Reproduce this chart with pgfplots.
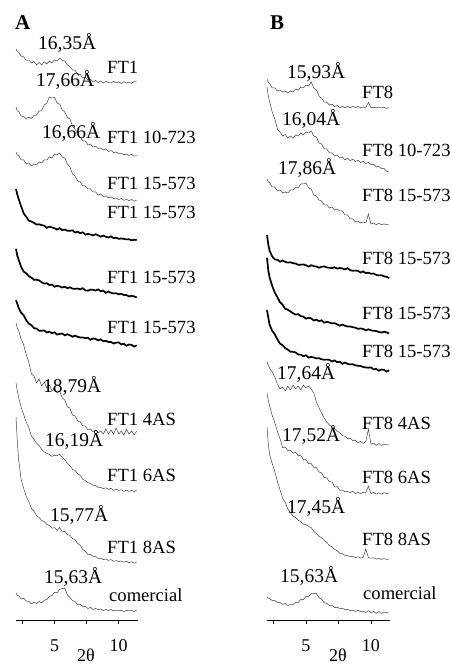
\documentclass[border=0pt]{standalone}
\usepackage{fontspec}
\setmainfont{Liberation Serif}
\usepackage{pgfplots}
\usepackage{pgfplotstable}
\pgfplotsset{compat=1.18}

% panel A: 2theta, then FT1, FT1 10-723, FT1 15-573 (x4), FT1 4AS, 6AS, 8AS, comercial
\pgfplotstableread{
x a1 a2 a3 a4 a5 a6 a7 a8 a9 a10
2.0 616 558 513 476 416.2 364.8 342 282 248 72
2.1 613.5 554 510 470.5 409.3 361.4 337 274.5 224 69.5
2.2 612.8 553.8 509.5 466.3 405.5 357.2 334.5 268 206 69.5
2.4 609 549 505 458.6 398.1 352.3 326 257.5 185.5 66
2.6 608 548.5 505 451.6 393.4 349.6 320 250.4 176.6 66.8
2.8 604.8 546 501 448.2 391.7 344.7 310 242.6 168.6 64
3.0 605 548 502 444.3 388.8 341.4 303 237.4 163.4 63.6
3.2 602 546.5 499 443.5 387.4 339.8 291 229 156.6 61.2
3.4 603.5 549.5 501 442.1 385.2 336.9 289 225.6 153.6 62.8
3.6 600 550 500 440.4 385.3 336.4 282 221.8 149.6 61.4
3.8 602.5 554 503 440.7 384.6 334.3 286 219.4 147.4 63.6
4.0 600.2 554.2 502 439.8 382.7 334.2 279 215.6 144.6 62.2
4.2 603 560 505 439.4 381.4 334.6 283 213.2 143.4 64.8
4.4 601 562 505 437.2 381.8 332.5 277 211.6 140.6 65.4
4.6 604 568 508 438.3 379.9 333.3 280 210.6 139.6 68.6
4.8 602.2 567 507 437.6 380.4 331.8 274 208.6 136.8 69.4
5.0 605 567.5 511 436.7 378.3 332.7 277 209.8 137.4 72.6
5.2 604 562 510 435.4 379.2 330.4 272 209.2 134.6 72.2
5.4 607 561 512 436.8 378.6 331.1 274 211 137.6 75.6
5.6 604.5 555 508 434.9 377.5 331.5 267 207.6 133 76.4
5.8 604 553 507 435.4 378.3 329.6 265 205.4 133.6 76.8
6.0 600 547.8 501 434.3 376.8 330.8 258 201.6 130.4 70.2
6.2 598.5 546 498 434.2 377.7 329.7 257 199.4 129.6 67.6
6.4 595 539 491 434.6 376.4 328.3 250 195.6 126.6 64.4
6.6 594.8 536 489 432.5 376.1 329.4 249 194.6 125.4 63.5
6.8 591 530 484 433.3 376.5 328.2 244 191.4 121.6 60.4
7.0 590.5 528 483 431.8 375.6 327.5 243 189.6 119.6 60.6
7.2 587 524 479 432.7 376.8 327.6 239 185.6 115.6 58.4
7.4 588 524 479 430.4 374.7 326.8 239 184.4 113.6 58.6
7.6 585 520 476 431.1 374.3 327.3 235 182.4 110.6 56.5
7.8 585.8 521 476 430.5 375.4 325.2 236 181.6 110.6 57.6
8.0 583 518 473 429.6 375.2 326.5 233 179.6 108.6 55.5
8.2 584.6 518.8 473 430.8 374.5 326.1 235 179.6 108.6 56.6
8.4 582.5 516.5 470 429.7 375.6 324.6 232 177.6 106.6 55.4
8.6 584 517 471 428.3 373.8 325.7 234 177.6 106.6 56
8.8 582 515 468.5 429.4 374.3 323.7 231 176.4 105.4 54.4
9.0 583.8 516 469 428.2 372.2 324.2 236 177.2 106 55.6
9.2 582.4 513.5 467.2 427.5 373.5 323 231 175.6 104.6 54.3
9.4 582 514.5 468 428.6 372.1 323 235 176.6 105.4 55.5
9.6 583.6 512.4 466.4 426.8 371.6 321.5 231 174.6 103.6 54.2
9.8 582.2 513 467 427.3 371.7 322.3 237 175.8 104.4 54.8
10.0 583 511.5 465.5 426.2 370.7 322.6 231 174.6 103.4 54.4
10.2 581.5 511.8 466.6 426.5 371.2 320.6 234 175.2 104 54.6
10.4 583.4 510.4 464.6 426.1 370 321.2 230 173.6 102.8 53.4
10.6 581.8 510.8 465.6 425.6 370 319.3 236 175 103.6 54.6
10.8 583 509.5 464.4 425.7 368.5 320.5 231 173.6 102.4 54.2
11.0 581.6 510.6 465.5 424.7 369.3 320.1 234 174.6 103.2 54.5
11.2 583.5 508.8 463.8 425.2 368.6 318.4 230 173.4 101.8 53.4
11.4 584 509.4 465 425 367.6 319.7 234 175 103 55
}\tblA

% panel B: FT8, FT8 10-723, FT8 15-573 (x4), FT8 4AS, 6AS, 8AS, comercial
\pgfplotstableread{
x b1 b2 b3 b4 b5 b6 b7 b8 b9 b10
2.0 586 578 486 430 407.2 354.8 303 272 238 68
2.1 583 569 483 420.5 394.3 347.4 300 264.5 221 67
2.2 581.5 563.5 482.5 414.3 387.5 340.2 297 259.2 210.5 66.5
2.4 577 553 478 408.6 379.1 334.3 293 249.6 201.4 64.5
2.6 577 546 478 405.6 372.4 330.6 288 242.4 193.4 64.6
2.8 574 536 474 405.2 367.7 325.7 281 233.6 183.6 62.4
3.0 575 533 475 403.3 362.8 321.4 276 226.4 175.4 62.6
3.2 573 529 472 404.5 360.4 319.8 278 217.4 167 60.5
3.4 574 530.5 473 403.1 356.2 316.9 274 218 162.4 61.6
3.6 572 527 472 402.4 355.3 315.4 279 214.4 156 59.4
3.8 574 529 475 402.7 353.6 313.3 275 214.8 152.4 60.8
4.0 573 527 475 401.8 351.7 313.2 280 212 149 60.4
4.2 576 530 478 401.4 350.4 312.6 276 212.8 147.4 62.6
4.4 575 529 477 400.2 350.8 310.5 279 209.2 144.8 62.4
4.6 578 532 481 400.3 348.9 310.3 275 209.4 143.4 65.6
4.8 577 530 481 400.6 348.4 308.8 280 205.4 140.8 65.4
5.0 580 533 482 399.7 346.3 309.7 277 205.4 140.4 68.6
5.2 579 532 477 398.4 347.2 307.4 279 201.4 138.6 68.4
5.4 583 534 476 399.8 346.6 308.1 276 201.4 137.4 71.6
5.6 577 529 470 398.9 344.5 307.5 272 197.4 133.6 71.6
5.8 575 528 469 398.4 345.3 306.6 263 197.4 131.4 71.6
6.0 569 522 465 397.3 343.8 306.8 257 193 128.6 67.4
6.2 566.8 521 464 398.2 344.7 305.7 252 192.2 127.4 65.6
6.4 563 516 460 398.6 342.4 305.3 247 187.4 124.6 62.4
6.6 562.8 516 460 397.5 343.1 305.4 243 187.2 122.4 61.6
6.8 560 512 457 397.3 342.5 305.2 240 183 119.6 59.4
7.0 560.8 512 458 396.8 341.6 303.5 238 183.2 118.4 59.6
7.2 558.4 509 455 397.7 341.8 304.6 236.8 178 115.6 57.4
7.4 559.6 510 456 396.4 340.7 302.8 233.4 178.4 114.4 57.8
7.6 557.4 507 454 397.1 339.3 303.3 232.6 174.6 111.6 56.4
7.8 558.8 508 454 396.5 340.4 301.2 229.4 175 111.4 56.6
8.0 557.2 505 450 395.6 339.2 302.5 228.6 173.2 109.6 55.4
8.2 558.8 506.8 450 396.8 338.5 301.1 226.4 173.6 109.4 55.6
8.4 557.2 504.4 446 394.7 338.6 300.6 226.8 172.4 108.4 54.4
8.6 558.6 505.8 446 394.3 337.8 300.7 224.4 173.6 108.6 54.8
8.8 557.4 503.4 443 394.4 337.3 299.7 224.8 171.4 107.4 53.6
9.0 558.6 504.6 444 394.2 336.2 299.2 222.4 172.6 108.2 54.6
9.2 557.2 502.4 442 392.5 336.5 299 223.6 171.4 106.8 53.4
9.4 557.8 503.8 443 393.6 336.1 298 221.6 172.6 107.6 53.8
9.6 557.6 501.4 442 391.8 334.6 297.5 223.4 172.2 116 52.6
9.8 562.5 502.6 451 392.3 335.7 297.3 236 179 107.4 54.4
10.0 557.4 500.4 441 391.2 334.7 297.6 220.6 171.4 106.8 52.4
10.2 557.6 500.8 442 391.5 334.2 295.6 221.8 172.6 107.2 53.6
10.4 557.2 498.4 440.4 390.1 334 296.2 219.6 170.8 105.8 51.6
10.6 558 498.6 441.6 389.6 333 294.3 221.4 172.2 106.8 53.4
10.8 557 496.4 440.4 389.7 332.5 295.5 219.6 170.8 105.6 51.6
11.0 557.8 496.6 441 388.7 333.3 295.1 220.8 172.4 106.4 52.8
11.2 556.6 493.6 440.4 388.2 332.6 293.4 220.2 171.4 105.6 52.4
11.4 557.4 493 440 387 331.6 294.7 220 172 106 52
}\tblB

\pgfplotsset{
  xrd/.style={
    scale only axis, height=620pt,
    xmin=2, xmax=11.5, ymin=45, ymax=665,
    axis x line=bottom, axis y line=none,
    axis line style={-, line width=0.8pt},
    xtick={2.5,5,7.5,10}, xticklabels={,5,,10},
    tick align=outside, major tick length=4pt,
    tick style={black, line width=0.8pt},
    xticklabel style={font=\fontsize{18}{20}\selectfont, yshift=-12pt},
    clip=false,
  },
  thin/.style={black!75, line width=0.5pt},
  bold/.style={black, line width=1.7pt},
}

\tikzset{
  smp/.style={anchor=west, inner sep=0pt, font=\fontsize{18.6}{20}\selectfont},
  dsp/.style={anchor=west, inner sep=0pt, font=\fontsize{19.5}{21}\selectfont},
}

\begin{document}
\begin{tikzpicture}
\useasboundingbox (0,0) rectangle (451pt,665pt);

\begin{axis}[xrd, at={(16pt,45pt)}, anchor=south west, width=122pt]
  \addplot[thin] table[x=x, y=a1] {\tblA};
  \addplot[thin] table[x=x, y=a2] {\tblA};
  \addplot[thin] table[x=x, y=a3] {\tblA};
  \addplot[bold] table[x=x, y=a4] {\tblA};
  \addplot[bold] table[x=x, y=a5] {\tblA};
  \addplot[bold] table[x=x, y=a6] {\tblA};
  \addplot[thin] table[x=x, y=a7] {\tblA};
  \addplot[thin] table[x=x, y=a8] {\tblA};
  \addplot[thin] table[x=x, y=a9] {\tblA};
  \addplot[thin] table[x=x, y=a10] {\tblA};
\end{axis}

\begin{axis}[xrd, at={(267pt,45pt)}, anchor=south west, width=123.5pt]
  \addplot[thin] table[x=x, y=b1] {\tblB};
  \addplot[thin] table[x=x, y=b2] {\tblB};
  \addplot[thin] table[x=x, y=b3] {\tblB};
  \addplot[bold] table[x=x, y=b4] {\tblB};
  \addplot[bold] table[x=x, y=b5] {\tblB};
  \addplot[bold] table[x=x, y=b6] {\tblB};
  \addplot[thin] table[x=x, y=b7] {\tblB};
  \addplot[thin] table[x=x, y=b8] {\tblB};
  \addplot[thin] table[x=x, y=b9] {\tblB};
  \addplot[thin] table[x=x, y=b10] {\tblB};
\end{axis}

% panel A labels
\node[anchor=west, inner sep=0pt, font=\fontsize{21}{22}\selectfont\bfseries] at (15pt,642pt) {A};
\node[dsp] at (38pt,622pt) {16,35Å};
\node[smp] at (107pt,598pt) {FT1};
\node[dsp] at (36pt,585pt) {17,66Å};
\node[smp] at (107pt,528pt) {FT1 10-723};
\node[dsp] at (42pt,533pt) {16,66Å};
\node[smp] at (107pt,482pt) {FT1 15-573};
\node[smp] at (107pt,453pt) {FT1 15-573};
\node[smp] at (107pt,388pt) {FT1 15-573};
\node[smp] at (107pt,338pt) {FT1 15-573};
\node[dsp] at (43pt,279pt) {18,79Å};
\node[smp] at (107pt,246pt) {FT1 4AS};
\node[dsp] at (45pt,225pt) {16,19Å};
\node[smp] at (107pt,190pt) {FT1 6AS};
\node[dsp] at (50pt,150pt) {15,77Å};
\node[smp] at (107pt,118pt) {FT1 8AS};
\node[dsp] at (44pt,88pt) {15,63Å};
\node[smp] at (109pt,70pt) {comercial};
\node[anchor=base, inner sep=0pt, font=\fontsize{18}{20}\selectfont] at (86pt,3pt) {2θ};

% panel B labels
\node[anchor=west, inner sep=0pt, font=\fontsize{21}{22}\selectfont\bfseries] at (270pt,642pt) {B};
\node[dsp] at (287pt,593pt) {15,93Å};
\node[smp] at (362pt,573pt) {FT8};
\node[dsp] at (282pt,546pt) {16,04Å};
\node[smp] at (362pt,515pt) {FT8 10-723};
\node[dsp] at (278pt,497pt) {17,86Å};
\node[smp] at (362pt,470pt) {FT8 15-573};
\node[smp] at (362pt,407pt) {FT8 15-573};
\node[smp] at (362pt,352pt) {FT8 15-573};
\node[smp] at (362pt,314pt) {FT8 15-573};
\node[dsp] at (277pt,292pt) {17,64Å};
\node[smp] at (362pt,242pt) {FT8 4AS};
\node[dsp] at (282pt,230pt) {17,52Å};
\node[smp] at (362pt,188pt) {FT8 6AS};
\node[dsp] at (287pt,158pt) {17,45Å};
\node[smp] at (362pt,126pt) {FT8 8AS};
\node[dsp] at (280pt,89pt) {15,63Å};
\node[smp] at (363pt,72pt) {comercial};
\node[anchor=base, inner sep=0pt, font=\fontsize{18}{20}\selectfont] at (338pt,3pt) {2θ};
\end{tikzpicture}
\end{document}
